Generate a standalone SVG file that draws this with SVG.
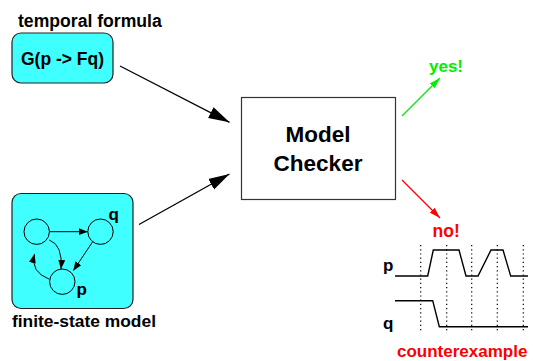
<svg xmlns="http://www.w3.org/2000/svg" width="533" height="361" viewBox="0 0 533 361">
<defs>
<style>
text{font-family:"Liberation Sans",Arial,sans-serif;font-weight:bold;}
.box{fill:#40ffff;stroke:#222;stroke-width:1.2;}
.st{fill:none;stroke:#000;stroke-width:1;}
.ln{fill:none;stroke:#000;stroke-width:1.3;}
.dot{fill:none;stroke:#000;stroke-width:1.2;stroke-dasharray:1.2 3;}
.sig{fill:none;stroke:#000;stroke-width:1.4;}
</style>
<marker id="big" markerUnits="userSpaceOnUse" markerWidth="22" markerHeight="14" refX="21" refY="7" orient="auto"><path d="M0,1 L21,7 L0,13 z" fill="#000"/></marker>
<marker id="sm" markerUnits="userSpaceOnUse" markerWidth="10" markerHeight="8" refX="9" refY="4" orient="auto"><path d="M0,0.5 L9,4 L0,7.5 z" fill="#000"/></marker>
<marker id="gr" markerUnits="userSpaceOnUse" markerWidth="12" markerHeight="8" refX="11" refY="4" orient="auto"><path d="M0,0.5 L11,4 L0,7.5 z" fill="#00ee00"/></marker>
<marker id="rd" markerUnits="userSpaceOnUse" markerWidth="12" markerHeight="8" refX="11" refY="4" orient="auto"><path d="M0,0.5 L11,4 L0,7.5 z" fill="#ff0000"/></marker>
</defs>
<g id="formula">
<text x="18" y="27" font-size="17.6">temporal formula</text>
<rect class="box" x="12" y="33" width="101" height="50" rx="9"/>
<text x="62.5" y="65" font-size="17.5" text-anchor="middle">G(p -&gt; Fq)</text>
</g>
<g id="model">
<rect class="box" x="12" y="193.5" width="121" height="115" rx="9"/>
<circle class="st" cx="36.7" cy="231.7" r="12.7"/>
<circle class="st" cx="100.5" cy="231.7" r="12.7"/>
<circle class="st" cx="62.3" cy="281.7" r="12.7"/>
<text x="108.5" y="220" font-size="17">q</text>
<text x="76.5" y="295" font-size="17">p</text>
<path class="st" d="M49.4,231.7 L87.8,231.7" marker-end="url(#sm)"/>
<path class="st" d="M92.7,241.7 L73.3,270.7" marker-end="url(#sm)"/>
<path class="st" d="M49.3,240 Q63,245 61,269" marker-end="url(#sm)"/>
<path class="st" d="M49.5,279.3 Q30,272 34.5,254" marker-end="url(#sm)"/>
<text x="12" y="327" font-size="17.4">finite-state model</text>
</g>
<g id="checker">
<rect x="241.5" y="97.5" width="154" height="102" fill="#fff" stroke="#333" stroke-width="1.2"/>
<text x="318" y="142" font-size="22.5" text-anchor="middle">Model</text>
<text x="318" y="171" font-size="22.5" text-anchor="middle">Checker</text>
</g>
<g id="yes">
<text x="429" y="72" font-size="17" fill="#00ee00">yes!</text>
</g>
<g id="counterexample">
<text x="432.5" y="237" font-size="17.5" fill="#ff0000">no!</text>
<text x="383" y="271" font-size="17">p</text>
<text x="383" y="329" font-size="17">q</text>
<path class="dot" d="M420.7,245 V333 M446.7,245 V333 M471.7,245 V333 M497.3,245 V333 M523.3,245 V333"/>
<path class="sig" d="M395,276 H427.7 L433.3,250 H459 L466,276 H478 L491,250 H503 L510.7,276 H528"/>
<path class="sig" d="M395,300.7 H432.7 L439.3,326.7 H528"/>
<text x="397" y="357" font-size="17" fill="#ff0000">counterexample</text>
</g>
<g id="connectors">
<path class="ln" d="M120,66 L229.5,122.3" marker-end="url(#big)"/>
<path class="ln" d="M139,224.5 L229.5,174" marker-end="url(#big)"/>
<path d="M402,116 L440,78" stroke="#00ee00" stroke-width="1.3" fill="none" marker-end="url(#gr)"/>
<path d="M402,180 L440,218" stroke="#ff0000" stroke-width="1.3" fill="none" marker-end="url(#rd)"/>
</g>
</svg>
